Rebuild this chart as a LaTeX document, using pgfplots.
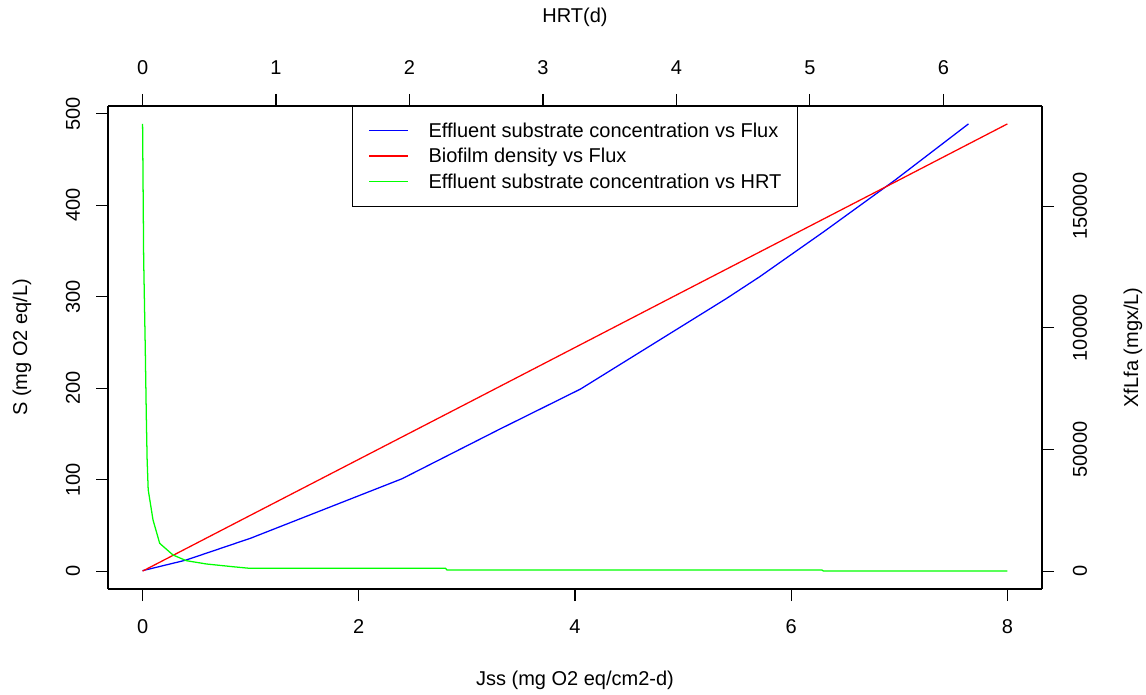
\documentclass[12pt,border=0pt]{standalone}
\usepackage{fontspec}
\setmainfont{Liberation Sans}
\usepackage{graphicx}
\usepackage{pgfplots}
\pgfplotsset{compat=1.18}
\begin{document}
\begin{tikzpicture}
\useasboundingbox (0,0) rectangle (859.5pt,520.5pt);
\pgfplotsset{
  common/.style={
    at={(81pt,78.75pt)}, anchor=south west,
    width=700.5pt, height=362.25pt, scale only axis,
    tick align=outside, major tick length=9pt,
    /pgf/number format/assume math mode=true,
    /pgf/number format/fixed, /pgf/number format/1000 sep={},
    tick style={black, line width=0.9pt},
    axis line style={black, line width=0.9pt},
    every tick label/.append style={font=\fontsize{15}{18}\selectfont},
    scaled ticks=false,
  }
}
% Bottom / left axis: S vs Jss
\begin{axis}[common,
  xmin=-0.32, xmax=8.32, ymin=-19.56, ymax=508.56,
  axis x line*=bottom, axis y line*=left,
  xtick={0,2,4,6,8}, ytick={0,100,200,300,400,500},
  xticklabel style={anchor=center}, xticklabel shift=19.5pt,
  yticklabel={\rotatebox{90}{\pgfmathprintnumber{\tick}}},
  yticklabel style={anchor=center}, yticklabel shift=17.25pt,
  xlabel={Jss (mg O2 eq/cm2-d)}, ylabel={S (mg O2 eq/L)},
  every axis x label/.style={at={(axis description cs:0.5,-0.1884)}, anchor=center, font=\fontsize{15}{18}\selectfont},
  every axis y label/.style={at={(axis description cs:-0.0921,0.5)}, anchor=center, rotate=90, font=\fontsize{15}{18}\selectfont},
]
\addplot[blue, line width=0.95pt] coordinates {
(0,0.5) (0.4,12) (1.0,36) (2.4,101) (3.3,155) (4.05,199) (4.95,265) (5.4,298) (5.71,322) (6.3,371) (6.96,427.5) (7.64,489)
};
\end{axis}
% Right axis: XfLfa vs Jss
\begin{axis}[common,
  xmin=-0.32, xmax=8.32, ymin=-7352, ymax=191152,
  hide x axis, axis y line*=right,
  ytick={0,50000,100000,150000},
  yticklabel={\rotatebox{90}{\pgfmathprintnumber{\tick}}},
  yticklabel style={anchor=center}, yticklabel shift=19.5pt,
  ylabel={XfLfa (mgx/L)},
  every axis y label/.style={at={(axis description cs:1.0974,0.5)}, anchor=center, rotate=90, font=\fontsize{15}{18}\selectfont},
]
\addplot[red, line width=0.95pt] coordinates {
(0,0) (1,23000) (2,45950) (3,68900) (4,91900) (5,114900) (6,137850) (7,160800) (8,183800)
};
\end{axis}
% Top axis: S vs HRT
\begin{axis}[common,
  xmin=-0.2592, xmax=6.7392, ymin=-19.56, ymax=508.56,
  hide y axis, axis x line*=top,
  xtick={0,1,2,3,4,5,6},
  xticklabel style={anchor=center}, xticklabel shift=19.5pt,
  xlabel={HRT(d)},
  every axis x label/.style={at={(axis description cs:0.5,1.1843)}, anchor=center, font=\fontsize{15}{18}\selectfont},
  legend cell align=left,
  legend style={at={(axis description cs:0.5,1)}, anchor=north, fill=white, draw=black, line width=0.9pt,
    inner xsep=12pt, inner ysep=12.2pt, row sep=6.4pt, column sep=15pt,
    nodes={inner sep=0pt},
    font=\fontsize{15}{18}\selectfont},
  legend image code/.code={\draw[#1] (0pt,0.5pt) -- (29pt,0.5pt);},
]
\addlegendimage{blue, line width=0.95pt}
\addlegendentry{\vphantom{Ay}Effluent substrate concentration vs Flux}
\addlegendimage{red, line width=0.95pt}
\addlegendentry{\vphantom{Ay}Biofilm density vs Flux}
\addlegendimage{green, line width=0.95pt}
\addlegendentry{\vphantom{Ay}Effluent substrate concentration vs HRT}
\addplot[green, line width=0.95pt, forget plot] coordinates {
(0.0,489) (0.008,342) (0.02,244) (0.028,168) (0.034,122) (0.042,89) (0.078,56) (0.128,30.4) (0.228,17.6) (0.328,11.4) (0.478,7.8) (0.677,4.8) (0.80,3.1) (2.27,3.1) (2.28,1.3) (5.09,1.3) (5.1,0.2) (6.48,0.2)
};
\end{axis}
\end{tikzpicture}
\end{document}
